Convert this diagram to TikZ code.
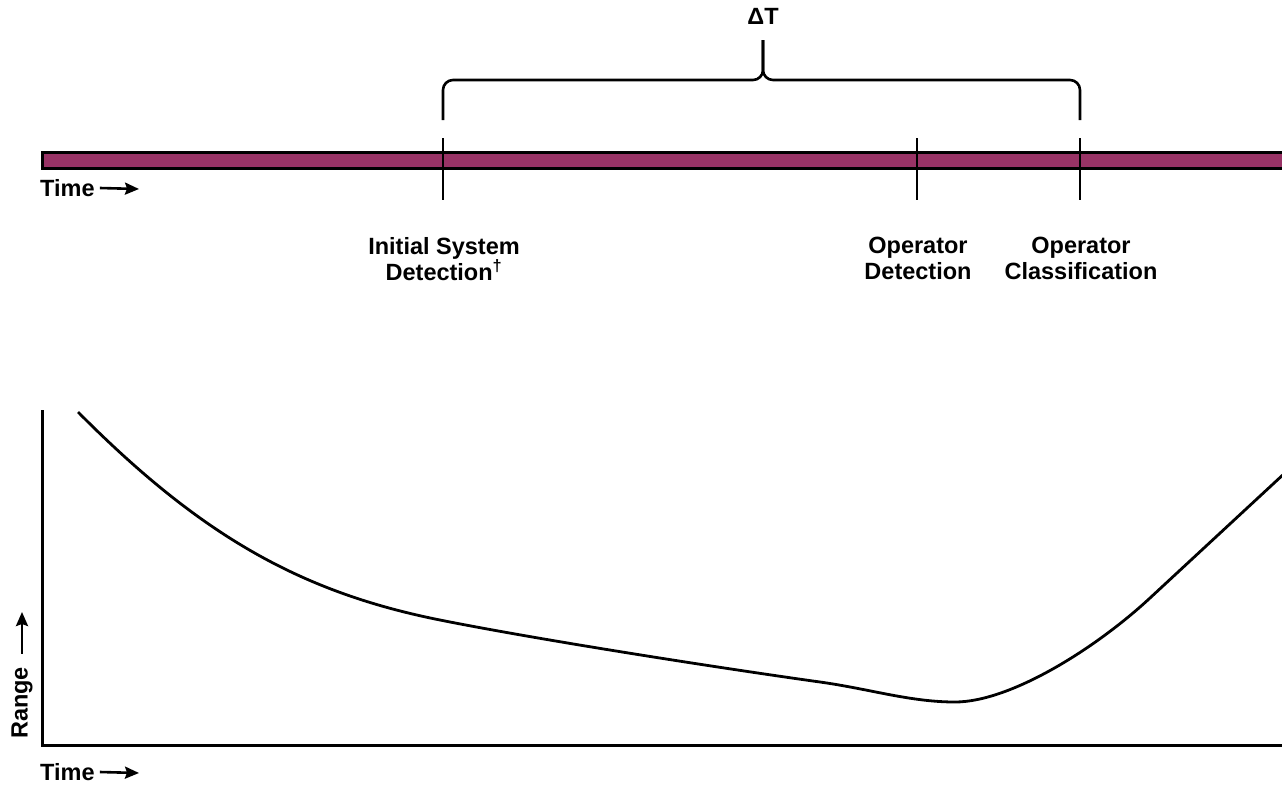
\documentclass[tikz,border=0pt]{standalone}
\usepackage{fontspec}
\setmainfont{Liberation Sans}
\usetikzlibrary{arrows.meta}
\definecolor{plum}{HTML}{993366}
\begin{document}
\begin{tikzpicture}[x=1pt,y=-1pt]
	\tikzset{
		label/.style={font=\fontsize{23.5}{26}\selectfont\bfseries, align=center, inner sep=0pt},
		tick/.style={line width=2.6pt},
		brace/.style={line width=2.6pt, rounded corners=10pt},
		curve/.style={line width=2.8pt, line join=round},
		axis/.style={line width=3pt},
		timearrow/.style={line width=2.6pt, -{Stealth[length=14pt,width=12pt,inset=2pt]}},
	}
	\clip (0,0) rectangle (1282,785);
	
	% Draw the time bar first.
	\draw[fill=plum, line width=3pt] (42,152) rectangle (1300,168);
	
	% Ticks on the bar: initial detection, operator detection, operator classification.
	\foreach \x/\n in {443/isd, 917/od, 1080/oc} {
		\draw[tick] (\x,138) coordinate (\n-top) -- (\x,200) coordinate (\n-bot);
	}
	
	% The brace over the interval.
	\coordinate (bl) at (443,120); % left leg
	\coordinate (br) at (1080,120); % right leg
	\coordinate (bt) at (763,40); % tip
	\draw[brace] (bl) -- (443,80) -- (763,80) -- (bt);
	\draw[brace] (bt) -- (763,80) -- (1080,80) -- (br);
	\path (763,16) node[label] (dt) {ΔT};
	
	% Labels under the ticks.
	\path (444,237) node[label, anchor=north] (isdlabel) {Initial System\\Detection\textsuperscript{†}};
	\path (918,237) node[label, anchor=north] (odlabel) {Operator\\Detection};
	\path (1081,237) node[label, anchor=north] (oclabel) {Operator\\Classification};
	
	% Time arrow under the bar.
	\path (40,188) node[label, anchor=west] (time1) {Time};
	\coordinate (t1end) at (139,189);
	\draw[timearrow] ([xshift=5pt]time1.east) -- (t1end);
	
	% Range vs time plot.
	\draw[axis] (42,410) -- (42,745) -- (1300,745);
	\coordinate (start) at (78,412); % curve start
	\coordinate (knee) at (440,620);
	\coordinate (flat) at (820,682);
	\coordinate (low) at (955,702); % closest approach
	\coordinate (rise) at (1150,598);
	\coordinate (stop) at (1300,459);
	\draw[curve] (start) .. controls (200,535) and (300,592) .. (knee)
		.. controls (540,640) and (720,668) .. (flat)
		.. controls (870,689) and (910,702) .. (low)
		.. controls (1010,702) and (1095,649) .. (rise)
		-- (stop);
	
	\path (22,739) node[label, rotate=90, anchor=west] (range) {Range};
	\coordinate (rangeend) at (22,612);
	\draw[timearrow] ([yshift=13pt]range.east) -- (rangeend);
	
	\path (40,772) node[label, anchor=west] (time2) {Time};
	\coordinate (t2end) at (139,773);
	\draw[timearrow] ([xshift=5pt]time2.east) -- (t2end);
\end{tikzpicture}
\end{document}
